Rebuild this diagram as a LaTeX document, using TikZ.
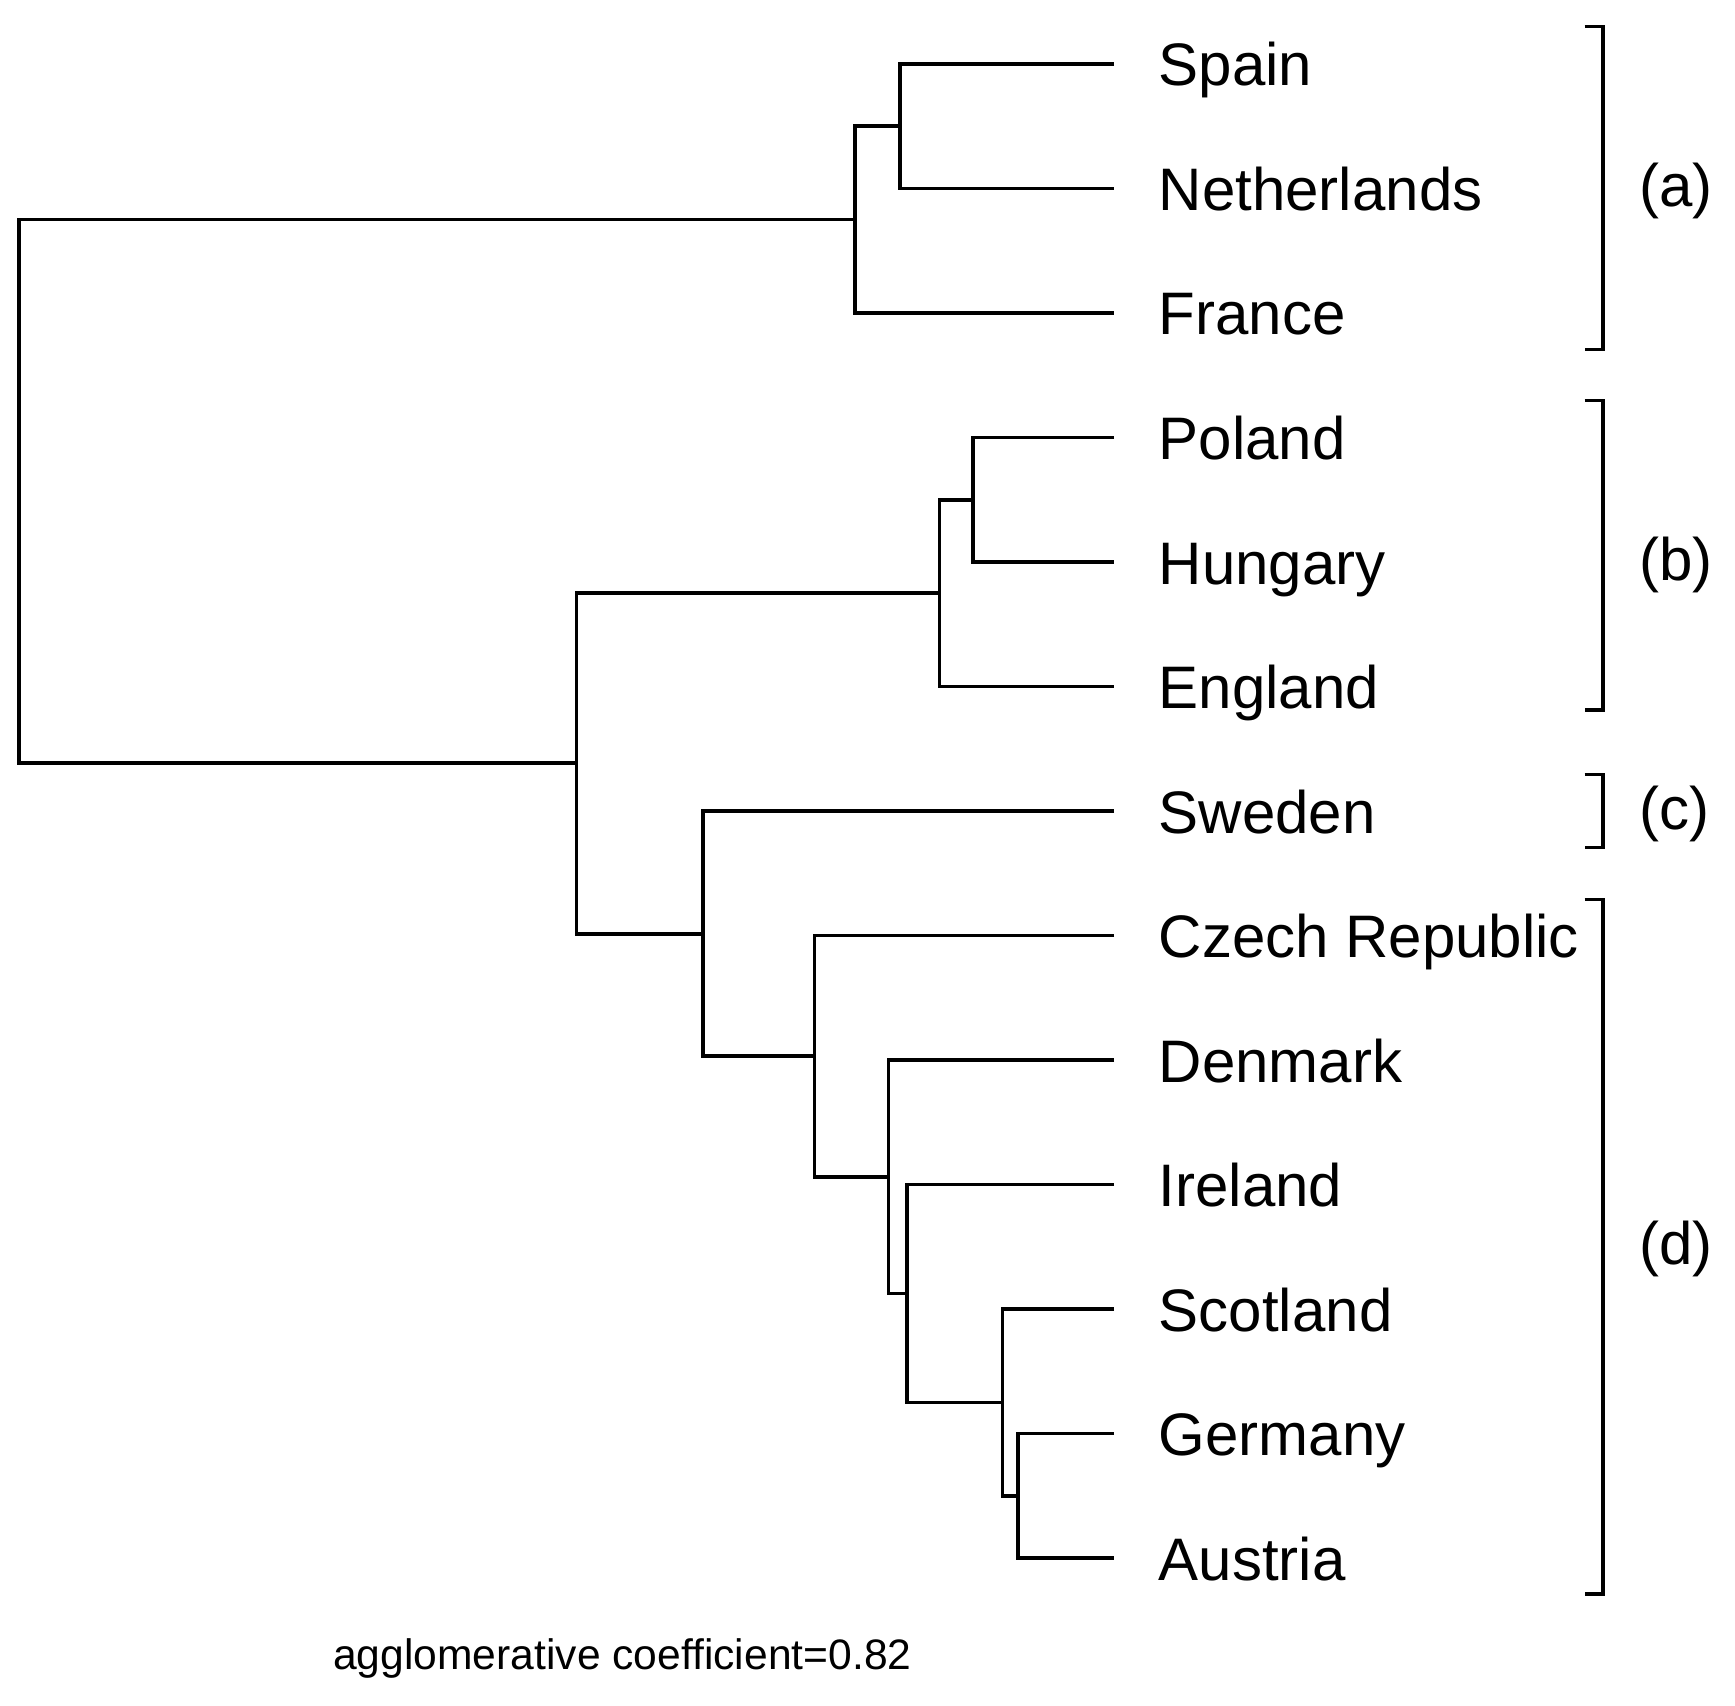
\documentclass[tikz,border=0pt]{standalone}
\usepackage{fontspec}
\setmainfont{Liberation Sans}
\begin{document}
\begin{tikzpicture}[x=0.5pt,y=-0.5pt,
  edge/.style={draw=black,line width=1.9pt,line join=miter},
  brk/.style={draw=black,line width=1.9pt},
  lbl/.style={anchor=base west,inner sep=0pt,font=\fontsize{30pt}{36pt}\selectfont},
  glbl/.style={anchor=base west,inner sep=0pt,font=\fontsize{30pt}{36pt}\selectfont},
  note/.style={anchor=base,inner sep=0pt,font=\fontsize{21.3pt}{26pt}\selectfont}]
\useasboundingbox (0,0) rectangle (1735,1706);
% leaf ends
\coordinate (lSpain) at (1114,64);
\coordinate (lNeth) at (1114,188.5);
\coordinate (lFrance) at (1114,313);
\coordinate (lPoland) at (1114,437.5);
\coordinate (lHungary) at (1114,562);
\coordinate (lEngland) at (1114,686.5);
\coordinate (lSweden) at (1114,811);
\coordinate (lCzech) at (1114,935.5);
\coordinate (lDenmark) at (1114,1060);
\coordinate (lIreland) at (1114,1184.5);
\coordinate (lScotland) at (1114,1309);
\coordinate (lGermany) at (1114,1433.5);
\coordinate (lAustria) at (1114,1558);
% labels
\node[lbl] (tSpain) at (1158.5,86) {Spain};
\node[lbl] (tNeth) at (1158.5,210.5) {Netherlands};
\node[lbl] (tFrance) at (1158.5,335) {France};
\node[lbl] (tPoland) at (1158.5,459.5) {Poland};
\node[lbl] (tHungary) at (1158.5,584) {Hungary};
\node[lbl] (tEngland) at (1158.5,708.5) {England};
\node[lbl] (tSweden) at (1158.5,833) {Sweden};
\node[lbl] (tCzech) at (1158.5,957.5) {Czech Republic};
\node[lbl] (tDenmark) at (1158.5,1082) {Denmark};
\node[lbl] (tIreland) at (1158.5,1206.5) {Ireland};
\node[lbl] (tScotland) at (1158.5,1331) {Scotland};
\node[lbl] (tGermany) at (1158.5,1455.5) {Germany};
\node[lbl] (tAustria) at (1158.5,1580) {Austria};
% internal merge points
\coordinate (A1) at (899.6,126.25);
\coordinate (A2) at (855.3,219.6);
\coordinate (B1) at (972.6,499.75);
\coordinate (B2) at (939.4,593.1);
\coordinate (D1) at (1018,1495.75);
\coordinate (D2) at (1002.5,1402.4);
\coordinate (D3) at (907.3,1293.4);
\coordinate (D4) at (888.5,1176.7);
\coordinate (D5) at (814.4,1056.1);
\coordinate (C1) at (702.6,933.6);
\coordinate (E) at (576.5,763.3);
\coordinate (R) at (18.8,491.5);
% tree
\draw[edge] (lSpain) -| (A1) |- (lNeth);
\draw[edge] (A1) -| (A2) |- (lFrance);
\draw[edge] (lPoland) -| (B1) |- (lHungary);
\draw[edge] (B1) -| (B2) |- (lEngland);
\draw[edge] (lGermany) -| (D1) |- (lAustria);
\draw[edge] (lScotland) -| (D2) |- (D1);
\draw[edge] (lIreland) -| (D3) |- (D2);
\draw[edge] (lDenmark) -| (D4) |- (D3);
\draw[edge] (lCzech) -| (D5) |- (D4);
\draw[edge] (lSweden) -| (C1) |- (D5);
\draw[edge] (B2) -| (E) |- (C1);
\draw[edge] (A2) -| (R) |- (E);
% brackets
\coordinate (ga1) at (1584.5,26.6); \coordinate (ga2) at (1584.5,349.6);
\coordinate (gb1) at (1584.5,400.5); \coordinate (gb2) at (1584.5,710.3);
\coordinate (gc1) at (1584.5,774.5); \coordinate (gc2) at (1584.5,847.5);
\coordinate (gd1) at (1584.5,899.5); \coordinate (gd2) at (1584.5,1594.3);
\draw[brk] (ga1) -- ++(18.8,0) |- (ga2);
\draw[brk] (gb1) -- ++(18.8,0) |- (gb2);
\draw[brk] (gc1) -- ++(18.8,0) |- (gc2);
\draw[brk] (gd1) -- ++(18.8,0) |- (gd2);
\node[glbl] (la) at (1638.7,206.5) {(a)};
\node[glbl] (lb) at (1638.7,580) {(b)};
\node[glbl] (lc) at (1638.7,829) {(c)};
\node[glbl] (ld) at (1638.7,1264) {(d)};
\node[note] (coef) at (622.4,1669) {agglomerative coefficient=0.82};
\end{tikzpicture}
\end{document}
